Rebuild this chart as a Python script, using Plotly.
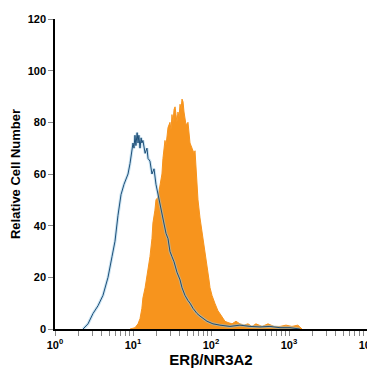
import plotly.graph_objects as go

# Isotype control (outline) — intensity vs relative cell number
iso_x = [2.29, 2.65, 3.07, 3.56, 4.12, 4.78, 5.38, 5.88, 6.42, 7.02, 7.67, 8.13, 8.63, 9.15, 9.43,
         10.0, 10.3, 10.6, 10.9, 11.3, 11.6, 11.9, 12.3, 12.7, 13.0, 13.4, 14.3, 15.1, 15.6, 16.5,
         17.5, 18.6, 19.7, 20.9, 22.2, 23.5, 25.0, 26.5, 28.1, 29.8, 31.6, 33.6, 36.6, 40.1, 42.5,
         46.4, 50.7, 53.8, 58.8, 66.2, 72.3, 78.9, 88.9, 97.1, 106, 130, 175, 235, 316, 425, 571,
         767, 1030, 1380]
iso_y = [0, 2, 6, 9, 13, 20, 28, 34, 44, 52, 56, 58, 60, 64, 67,
         72, 70, 75, 71, 76, 72, 75, 70, 74, 72, 73, 68, 70, 66, 65,
         60, 62, 56, 52, 48, 44, 40, 37, 35, 30, 28, 26, 22, 19, 16,
         13, 11, 10, 8, 6, 5, 4, 3, 2.5, 2, 1.5, 1, 1.5, 1, 0.8, 1,
         0.5, 0.5, 0]

# ERbeta/NR3A2 stained (filled)
stain_x = [9.15, 10.6, 11.6, 12.3, 13.0, 13.4, 14.3, 15.1, 16.0, 16.5, 17.5, 18.0, 19.1, 19.7,
           20.9, 22.2, 23.5, 24.2, 25.7, 26.5, 27.3, 28.1, 29.8, 30.7, 31.6, 32.6, 33.6, 34.6,
           35.6, 36.6, 37.7, 38.9, 40.1, 41.3, 42.5, 43.8, 45.1, 46.4, 47.8, 50.7, 52.2, 53.8,
           57.1, 60.6, 62.4, 64.2, 66.2, 68.1, 72.3, 76.6, 78.9, 83.7, 88.9, 94.3, 97.1, 103,
           112, 123, 130, 142, 151, 165, 186, 209, 235, 265, 298, 335, 377, 452, 538, 643, 767,
           915, 1090, 1300, 1470]
stain_y = [0, 0.5, 2, 4, 8, 12, 16, 20, 25, 28, 35, 41, 46, 50,
           51, 56, 60, 66, 73, 71, 76, 78, 80, 77, 83, 80, 85, 86,
           83, 80, 84, 82, 87, 85, 89, 88, 84, 82, 79, 80, 76, 72,
           70, 68, 69, 62, 56, 50, 43, 38, 36, 30, 24, 19, 16, 13,
           10, 7, 6, 4, 3, 2.5, 2, 3, 2, 1.5, 2, 1, 2, 1, 2, 1, 1,
           1.5, 1, 1.5, 0]

major_vals = [1, 10, 100, 1000, 10000]
major_text = ["<b>10<sup>0</sup></b>", "<b>10<sup>1</sup></b>", "<b>10<sup>2</sup></b>",
              "<b>10<sup>3</sup></b>", "<b>10<sup>4</sup></b>"]
minor_vals = [m * 10 ** d for d in range(4) for m in range(2, 10)]
y_ticks = [0, 20, 40, 60, 80, 100, 120]
y_text = ["<b>%d</b>" % v for v in y_ticks]

FONT = "Liberation Sans, Arial, sans-serif"

fig = go.Figure()
fig.add_trace(go.Scatter(x=stain_x, y=stain_y, mode="lines", fill="tozeroy",
                         fillcolor="#F7941D", line=dict(color="#F7941D", width=1),
                         hoverinfo="skip", showlegend=False))
fig.add_trace(go.Scatter(x=iso_x, y=iso_y, mode="lines",
                         line=dict(color="rgba(150,200,230,0.5)", width=3),
                         hoverinfo="skip", showlegend=False))
fig.add_trace(go.Scatter(x=iso_x, y=iso_y, mode="lines",
                         line=dict(color="#1d4f78", width=1),
                         hoverinfo="skip", showlegend=False))

# page body has an 8px default margin, so the figure is offset for it
fig.update_layout(
    width=375, height=367,
    margin=dict(l=47, r=16, t=11, b=46),
    paper_bgcolor="white", plot_bgcolor="white",
    font=dict(family=FONT, color="black", size=11),
    xaxis=dict(type="log", range=[0, 4], tickvals=major_vals, ticktext=major_text,
               automargin=False,
               ticks="outside", ticklen=5, tickcolor="#888", showgrid=False, zeroline=False,
               showline=True, linecolor="black", linewidth=1.5,
               tickfont=dict(family=FONT, size=11, color="black"),
               minor=dict(tickvals=minor_vals, ticks="outside", ticklen=5, tickcolor="#888"),
               title=dict(text="<b>ERβ/NR3A2</b>", font=dict(family=FONT, size=15, color="black"),
                          standoff=2)),
    yaxis=dict(range=[0, 120], tickvals=y_ticks, ticktext=y_text, automargin=False,
               ticks="outside", ticklen=5, tickcolor="#888",
               showgrid=False, zeroline=False, showline=True, linecolor="black", linewidth=1.5,
               tickfont=dict(family=FONT, size=11, color="black"),
               title=dict(text="<b>Relative Cell Number</b>",
                          font=dict(family=FONT, size=13, color="black"), standoff=4)),
)

fig.write_html("out.html")
